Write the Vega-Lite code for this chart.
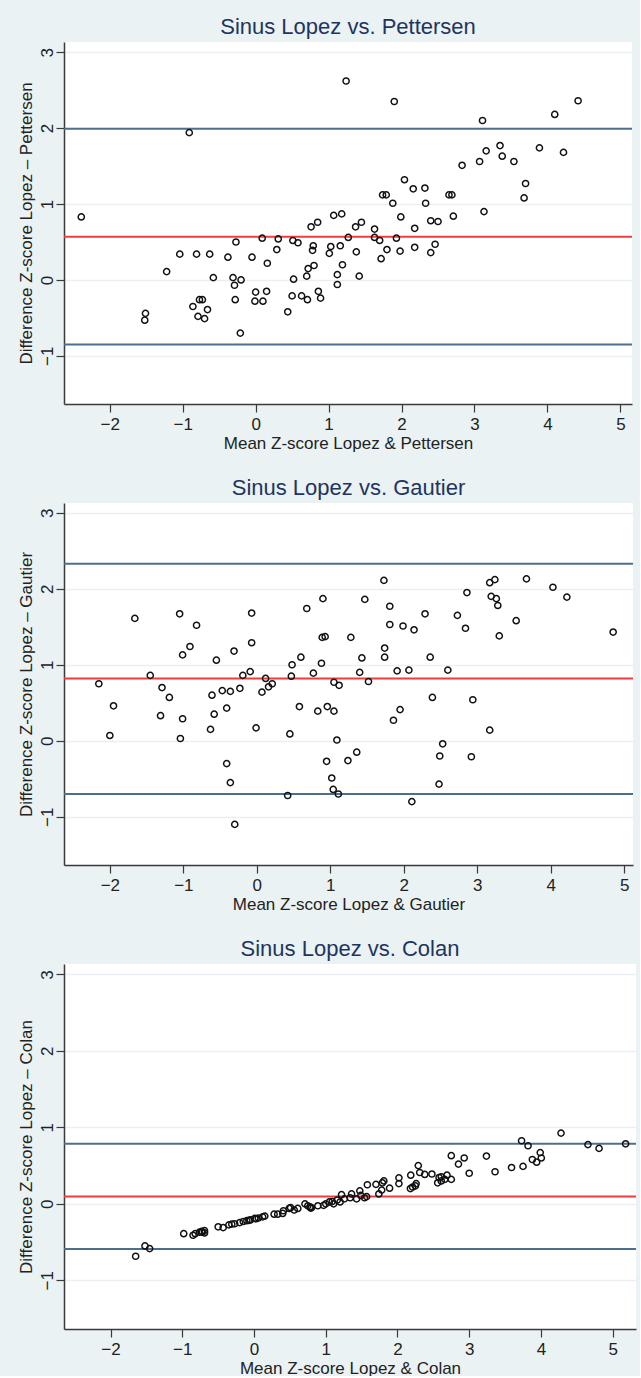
{
  "$schema": "https://vega.github.io/schema/vega-lite/v6.json",
  "background": "#EAF2F3",
  "padding": {"left": 17, "top": 16, "right": 3, "bottom": 0},
  "spacing": 99,
  "bounds": "flush",
  "datasets": {
    "lines1": [{"value": 1.99, "line": "limit"}, {"value": 0.57, "line": "mean"}, {"value": -0.85, "line": "limit"}],
    "lines2": [{"value": 2.33, "line": "limit"}, {"value": 0.82, "line": "mean"}, {"value": -0.70, "line": "limit"}],
    "lines3": [{"value": 0.785, "line": "limit"}, {"value": 0.096, "line": "mean"}, {"value": -0.59, "line": "limit"}],
    "p1": [
      {"mean": -2.39, "diff": 0.83}, {"mean": -1.51, "diff": -0.44}, {"mean": -1.52, "diff": -0.53}, {"mean": -1.22, "diff": 0.11}, {"mean": -1.04, "diff": 0.34},
      {"mean": -0.91, "diff": 1.94}, {"mean": -0.86, "diff": -0.35}, {"mean": -0.81, "diff": 0.34}, {"mean": -0.79, "diff": -0.48}, {"mean": -0.77, "diff": -0.26},
      {"mean": -0.73, "diff": -0.26}, {"mean": -0.70, "diff": -0.51}, {"mean": -0.66, "diff": -0.39}, {"mean": -0.63, "diff": 0.34}, {"mean": -0.58, "diff": 0.03},
      {"mean": -0.38, "diff": 0.30}, {"mean": -0.31, "diff": 0.03}, {"mean": -0.27, "diff": 0.50}, {"mean": -0.29, "diff": -0.07}, {"mean": -0.28, "diff": -0.26},
      {"mean": -0.20, "diff": 0.00}, {"mean": -0.21, "diff": -0.70}, {"mean": -0.05, "diff": 0.30}, {"mean": 0.00, "diff": -0.16}, {"mean": -0.01, "diff": -0.28},
      {"mean": 0.09, "diff": 0.55}, {"mean": 0.10, "diff": -0.28}, {"mean": 0.15, "diff": -0.15}, {"mean": 0.16, "diff": 0.22}, {"mean": 0.29, "diff": 0.40},
      {"mean": 0.31, "diff": 0.54}, {"mean": 0.44, "diff": -0.42}, {"mean": 0.50, "diff": -0.21}, {"mean": 0.51, "diff": 0.52}, {"mean": 0.52, "diff": 0.01},
      {"mean": 0.58, "diff": 0.49}, {"mean": 0.63, "diff": -0.21}, {"mean": 0.71, "diff": -0.26}, {"mean": 0.70, "diff": 0.05}, {"mean": 0.72, "diff": 0.15},
      {"mean": 0.76, "diff": 0.70}, {"mean": 0.78, "diff": 0.39}, {"mean": 0.79, "diff": 0.45}, {"mean": 0.80, "diff": 0.19}, {"mean": 0.85, "diff": 0.76},
      {"mean": 0.86, "diff": -0.15}, {"mean": 0.89, "diff": -0.24}, {"mean": 1.01, "diff": 0.35}, {"mean": 1.03, "diff": 0.44}, {"mean": 1.07, "diff": 0.85},
      {"mean": 1.12, "diff": 0.07}, {"mean": 1.12, "diff": -0.06}, {"mean": 1.16, "diff": 0.45}, {"mean": 1.18, "diff": 0.87}, {"mean": 1.19, "diff": 0.20},
      {"mean": 1.24, "diff": 2.62}, {"mean": 1.27, "diff": 0.56}, {"mean": 1.37, "diff": 0.70}, {"mean": 1.38, "diff": 0.37}, {"mean": 1.42, "diff": 0.05},
      {"mean": 1.45, "diff": 0.76}, {"mean": 1.63, "diff": 0.67}, {"mean": 1.63, "diff": 0.56}, {"mean": 1.70, "diff": 0.52}, {"mean": 1.72, "diff": 0.28},
      {"mean": 1.74, "diff": 1.12}, {"mean": 1.79, "diff": 1.12}, {"mean": 1.80, "diff": 0.40}, {"mean": 1.88, "diff": 1.01}, {"mean": 1.90, "diff": 2.35},
      {"mean": 1.93, "diff": 0.55}, {"mean": 1.98, "diff": 0.38}, {"mean": 1.99, "diff": 0.83}, {"mean": 2.04, "diff": 1.32}, {"mean": 2.16, "diff": 1.20},
      {"mean": 2.18, "diff": 0.68}, {"mean": 2.18, "diff": 0.43}, {"mean": 2.32, "diff": 1.21}, {"mean": 2.33, "diff": 1.01}, {"mean": 2.40, "diff": 0.78},
      {"mean": 2.40, "diff": 0.36}, {"mean": 2.46, "diff": 0.47}, {"mean": 2.50, "diff": 0.77}, {"mean": 2.65, "diff": 1.12}, {"mean": 2.69, "diff": 1.12},
      {"mean": 2.71, "diff": 0.84}, {"mean": 2.83, "diff": 1.51}, {"mean": 3.07, "diff": 1.56}, {"mean": 3.11, "diff": 2.10}, {"mean": 3.13, "diff": 0.90},
      {"mean": 3.16, "diff": 1.70}, {"mean": 3.35, "diff": 1.77}, {"mean": 3.38, "diff": 1.63}, {"mean": 3.54, "diff": 1.56}, {"mean": 3.68, "diff": 1.08},
      {"mean": 3.70, "diff": 1.27}, {"mean": 3.89, "diff": 1.74}, {"mean": 4.10, "diff": 2.18}, {"mean": 4.22, "diff": 1.68}, {"mean": 4.42, "diff": 2.36}
    ],
    "p2": [
      {"mean": -2.15, "diff": 0.75}, {"mean": -2.00, "diff": 0.07}, {"mean": -1.95, "diff": 0.46}, {"mean": -1.66, "diff": 1.61}, {"mean": -1.45, "diff": 0.86},
      {"mean": -1.31, "diff": 0.33}, {"mean": -1.29, "diff": 0.70}, {"mean": -1.19, "diff": 0.57}, {"mean": -1.05, "diff": 1.67}, {"mean": -1.04, "diff": 0.03},
      {"mean": -1.01, "diff": 0.29}, {"mean": -1.01, "diff": 1.13}, {"mean": -0.91, "diff": 1.24}, {"mean": -0.82, "diff": 1.52}, {"mean": -0.63, "diff": 0.15},
      {"mean": -0.61, "diff": 0.60}, {"mean": -0.58, "diff": 0.35}, {"mean": -0.55, "diff": 1.06}, {"mean": -0.47, "diff": 0.66}, {"mean": -0.41, "diff": 0.43},
      {"mean": -0.41, "diff": -0.30}, {"mean": -0.36, "diff": 0.65}, {"mean": -0.36, "diff": -0.55}, {"mean": -0.31, "diff": 1.18}, {"mean": -0.30, "diff": -1.10},
      {"mean": -0.23, "diff": 0.69}, {"mean": -0.19, "diff": 0.86}, {"mean": -0.09, "diff": 0.91}, {"mean": -0.07, "diff": 1.68}, {"mean": -0.07, "diff": 1.29},
      {"mean": -0.01, "diff": 0.17}, {"mean": 0.07, "diff": 0.64}, {"mean": 0.12, "diff": 0.82}, {"mean": 0.16, "diff": 0.71}, {"mean": 0.21, "diff": 0.75},
      {"mean": 0.45, "diff": 0.09}, {"mean": 0.47, "diff": 0.85}, {"mean": 0.48, "diff": 1.00}, {"mean": 0.58, "diff": 0.45}, {"mean": 0.60, "diff": 1.10},
      {"mean": 0.42, "diff": -0.72}, {"mean": 0.68, "diff": 1.74}, {"mean": 0.77, "diff": 0.89}, {"mean": 0.83, "diff": 0.39}, {"mean": 0.88, "diff": 1.02},
      {"mean": 0.90, "diff": 1.87}, {"mean": 0.89, "diff": 1.36}, {"mean": 0.93, "diff": 1.37}, {"mean": 0.95, "diff": -0.27}, {"mean": 0.96, "diff": 0.45},
      {"mean": 1.02, "diff": -0.49}, {"mean": 1.04, "diff": -0.64}, {"mean": 1.05, "diff": 0.39}, {"mean": 1.05, "diff": 0.77}, {"mean": 1.09, "diff": 0.01},
      {"mean": 1.11, "diff": -0.70}, {"mean": 1.12, "diff": 0.73}, {"mean": 1.24, "diff": -0.26}, {"mean": 1.28, "diff": 1.36}, {"mean": 1.36, "diff": -0.15},
      {"mean": 1.40, "diff": 0.90}, {"mean": 1.43, "diff": 1.09}, {"mean": 1.47, "diff": 1.86}, {"mean": 1.52, "diff": 0.78}, {"mean": 1.73, "diff": 2.11},
      {"mean": 1.74, "diff": 1.22}, {"mean": 1.74, "diff": 1.10}, {"mean": 1.81, "diff": 1.77}, {"mean": 1.81, "diff": 1.53}, {"mean": 1.86, "diff": 0.27},
      {"mean": 1.91, "diff": 0.92}, {"mean": 1.95, "diff": 0.41}, {"mean": 1.99, "diff": 1.51}, {"mean": 2.07, "diff": 0.93}, {"mean": 2.11, "diff": -0.80},
      {"mean": 2.14, "diff": 1.46}, {"mean": 2.29, "diff": 1.67}, {"mean": 2.36, "diff": 1.10}, {"mean": 2.39, "diff": 0.57}, {"mean": 2.48, "diff": -0.57},
      {"mean": 2.49, "diff": -0.20}, {"mean": 2.53, "diff": -0.04}, {"mean": 2.60, "diff": 0.93}, {"mean": 2.73, "diff": 1.65}, {"mean": 2.84, "diff": 1.48},
      {"mean": 2.86, "diff": 1.95}, {"mean": 2.92, "diff": -0.21}, {"mean": 2.94, "diff": 0.54}, {"mean": 3.17, "diff": 0.14}, {"mean": 3.17, "diff": 2.08},
      {"mean": 3.19, "diff": 1.90}, {"mean": 3.24, "diff": 2.12}, {"mean": 3.26, "diff": 1.87}, {"mean": 3.28, "diff": 1.78}, {"mean": 3.30, "diff": 1.38},
      {"mean": 3.53, "diff": 1.58}, {"mean": 3.67, "diff": 2.13}, {"mean": 4.03, "diff": 2.02}, {"mean": 4.22, "diff": 1.89}, {"mean": 4.85, "diff": 1.43}
    ],
    "p3": [
      {"mean": -1.65, "diff": -0.685}, {"mean": -1.52, "diff": -0.55}, {"mean": -1.455, "diff": -0.585}, {"mean": -0.98, "diff": -0.39}, {"mean": -0.85, "diff": -0.41},
      {"mean": -0.82, "diff": -0.39}, {"mean": -0.76, "diff": -0.37}, {"mean": -0.73, "diff": -0.36}, {"mean": -0.69, "diff": -0.35}, {"mean": -0.69, "diff": -0.38},
      {"mean": -0.72, "diff": -0.37}, {"mean": -0.50, "diff": -0.30}, {"mean": -0.43, "diff": -0.31}, {"mean": -0.35, "diff": -0.275}, {"mean": -0.31, "diff": -0.265},
      {"mean": -0.27, "diff": -0.26}, {"mean": -0.20, "diff": -0.245}, {"mean": -0.15, "diff": -0.23}, {"mean": -0.10, "diff": -0.22}, {"mean": -0.07, "diff": -0.215},
      {"mean": -0.05, "diff": -0.21}, {"mean": 0.01, "diff": -0.19}, {"mean": 0.03, "diff": -0.195}, {"mean": 0.06, "diff": -0.185}, {"mean": 0.12, "diff": -0.17},
      {"mean": 0.15, "diff": -0.16}, {"mean": 0.28, "diff": -0.135}, {"mean": 0.33, "diff": -0.135}, {"mean": 0.40, "diff": -0.125}, {"mean": 0.41, "diff": -0.09},
      {"mean": 0.49, "diff": -0.06}, {"mean": 0.51, "diff": -0.05}, {"mean": 0.56, "diff": -0.08}, {"mean": 0.61, "diff": -0.06}, {"mean": 0.71, "diff": 0.00},
      {"mean": 0.75, "diff": -0.025}, {"mean": 0.78, "diff": -0.04}, {"mean": 0.79, "diff": -0.055}, {"mean": 0.80, "diff": -0.05}, {"mean": 0.89, "diff": -0.025},
      {"mean": 0.97, "diff": -0.02}, {"mean": 1.00, "diff": 0.00}, {"mean": 1.05, "diff": 0.025}, {"mean": 1.09, "diff": 0.03}, {"mean": 1.11, "diff": 0.00},
      {"mean": 1.16, "diff": 0.05}, {"mean": 1.20, "diff": 0.025}, {"mean": 1.22, "diff": 0.12}, {"mean": 1.26, "diff": 0.065}, {"mean": 1.34, "diff": 0.08},
      {"mean": 1.36, "diff": 0.13}, {"mean": 1.43, "diff": 0.065}, {"mean": 1.475, "diff": 0.17}, {"mean": 1.49, "diff": 0.11}, {"mean": 1.54, "diff": 0.08},
      {"mean": 1.57, "diff": 0.095}, {"mean": 1.58, "diff": 0.25}, {"mean": 1.70, "diff": 0.255}, {"mean": 1.74, "diff": 0.13}, {"mean": 1.78, "diff": 0.18},
      {"mean": 1.79, "diff": 0.275}, {"mean": 1.81, "diff": 0.30}, {"mean": 1.89, "diff": 0.205}, {"mean": 2.02, "diff": 0.34}, {"mean": 2.02, "diff": 0.265},
      {"mean": 2.18, "diff": 0.20}, {"mean": 2.185, "diff": 0.375}, {"mean": 2.21, "diff": 0.22}, {"mean": 2.25, "diff": 0.235}, {"mean": 2.26, "diff": 0.265},
      {"mean": 2.29, "diff": 0.50}, {"mean": 2.31, "diff": 0.41}, {"mean": 2.38, "diff": 0.385}, {"mean": 2.48, "diff": 0.39}, {"mean": 2.56, "diff": 0.275},
      {"mean": 2.58, "diff": 0.345}, {"mean": 2.61, "diff": 0.30}, {"mean": 2.61, "diff": 0.355}, {"mean": 2.66, "diff": 0.32}, {"mean": 2.69, "diff": 0.375},
      {"mean": 2.75, "diff": 0.63}, {"mean": 2.75, "diff": 0.32}, {"mean": 2.85, "diff": 0.52}, {"mean": 2.93, "diff": 0.60}, {"mean": 3.00, "diff": 0.40},
      {"mean": 3.24, "diff": 0.625}, {"mean": 3.36, "diff": 0.42}, {"mean": 3.59, "diff": 0.475}, {"mean": 3.73, "diff": 0.825}, {"mean": 3.75, "diff": 0.49},
      {"mean": 3.82, "diff": 0.76}, {"mean": 3.88, "diff": 0.58}, {"mean": 3.94, "diff": 0.545}, {"mean": 3.99, "diff": 0.67}, {"mean": 4.005, "diff": 0.60},
      {"mean": 4.28, "diff": 0.925}, {"mean": 4.655, "diff": 0.775}, {"mean": 4.81, "diff": 0.725}, {"mean": 5.18, "diff": 0.785}
    ]
  },
  "vconcat": [
    {
      "title": "Sinus Lopez vs. Pettersen",
      "width": 568, "height": 362,
      "layer": [
        {
          "data": {"name": "lines1"},
          "mark": {"type": "rule", "strokeWidth": 2},
          "encoding": {
            "y": {"field": "value", "type": "quantitative", "scale": {"domain": [-1.634, 3.134], "nice": false, "zero": false},
                  "axis": {"title": "Difference Z-score Lopez – Pettersen", "values": [-1, 0, 1, 2, 3]}},
            "color": {"field": "line", "type": "nominal", "scale": {"domain": ["limit", "mean"], "range": ["#4d6f8f", "#f23c3c"]}, "legend": null}
          }
        },
        {
          "data": {"name": "p1"},
          "mark": {"type": "point", "shape": "circle", "filled": false, "color": "#111111", "size": 38, "strokeWidth": 1.5, "opacity": 1, "clip": true},
          "encoding": {
            "x": {"field": "mean", "type": "quantitative", "scale": {"domain": [-2.627, 5.159], "nice": false, "zero": false},
                  "axis": {"title": "Mean Z-score Lopez & Pettersen", "values": [-2, -1, 0, 1, 2, 3, 4, 5], "grid": false}},
            "y": {"field": "diff", "type": "quantitative", "scale": {"domain": [-1.634, 3.134], "nice": false, "zero": false},
                  "axis": {"title": "Difference Z-score Lopez – Pettersen", "values": [-1, 0, 1, 2, 3]}}
          }
        }
      ]
    },
    {
      "title": "Sinus Lopez vs. Gautier",
      "width": 569, "height": 362,
      "layer": [
        {
          "data": {"name": "lines2"},
          "mark": {"type": "rule", "strokeWidth": 2},
          "encoding": {
            "y": {"field": "value", "type": "quantitative", "scale": {"domain": [-1.634, 3.128], "nice": false, "zero": false},
                  "axis": {"title": "Difference Z-score Lopez – Gautier", "values": [-1, 0, 1, 2, 3]}},
            "color": {"field": "line", "type": "nominal", "scale": {"domain": ["limit", "mean"], "range": ["#4d6f8f", "#f23c3c"]}, "legend": null}
          }
        },
        {
          "data": {"name": "p2"},
          "mark": {"type": "point", "shape": "circle", "filled": false, "color": "#111111", "size": 38, "strokeWidth": 1.5, "opacity": 1, "clip": true},
          "encoding": {
            "x": {"field": "mean", "type": "quantitative", "scale": {"domain": [-2.624, 5.12], "nice": false, "zero": false},
                  "axis": {"title": "Mean Z-score Lopez & Gautier", "values": [-2, -1, 0, 1, 2, 3, 4, 5], "grid": false}},
            "y": {"field": "diff", "type": "quantitative", "scale": {"domain": [-1.634, 3.128], "nice": false, "zero": false},
                  "axis": {"title": "Difference Z-score Lopez – Gautier", "values": [-1, 0, 1, 2, 3]}}
          }
        }
      ]
    },
    {
      "title": "Sinus Lopez vs. Colan",
      "width": 572, "height": 365,
      "layer": [
        {
          "data": {"name": "lines3"},
          "mark": {"type": "rule", "strokeWidth": 2},
          "encoding": {
            "y": {"field": "value", "type": "quantitative", "scale": {"domain": [-1.636, 3.136], "nice": false, "zero": false},
                  "axis": {"title": "Difference Z-score Lopez – Colan", "values": [-1, 0, 1, 2, 3]}},
            "color": {"field": "line", "type": "nominal", "scale": {"domain": ["limit", "mean"], "range": ["#4d6f8f", "#f23c3c"]}, "legend": null}
          }
        },
        {
          "data": {"name": "p3"},
          "mark": {"type": "point", "shape": "circle", "filled": false, "color": "#111111", "size": 38, "strokeWidth": 1.5, "opacity": 1, "clip": true},
          "encoding": {
            "x": {"field": "mean", "type": "quantitative", "scale": {"domain": [-2.649, 5.325], "nice": false, "zero": false},
                  "axis": {"title": "Mean Z-score Lopez & Colan", "values": [-2, -1, 0, 1, 2, 3, 4, 5], "grid": false}},
            "y": {"field": "diff", "type": "quantitative", "scale": {"domain": [-1.636, 3.136], "nice": false, "zero": false},
                  "axis": {"title": "Difference Z-score Lopez – Colan", "values": [-1, 0, 1, 2, 3]}}
          }
        }
      ]
    }
  ],
  "config": {
    "view": {"fill": "white", "stroke": null},
    "axis": {
      "domainColor": "#3a3a3a", "domainWidth": 1.5, "tickColor": "#3a3a3a", "tickWidth": 1.2, "tickSize": 8,
      "labelColor": "#222222", "titleColor": "#222222", "labelFont": "Liberation Sans", "titleFont": "Liberation Sans",
      "labelFontSize": 17, "titleFontSize": 17, "titleFontWeight": "normal",
      "gridColor": "#eaf0f2", "gridWidth": 1.5, "labelPadding": 4, "titlePadding": 3
    },
    "axisY": {"labelAngle": -90, "labelAlign": "center", "labelBaseline": "alphabetic", "grid": true},
    "title": {"font": "Liberation Sans", "fontSize": 22, "fontWeight": "normal", "color": "#1f3560", "anchor": "middle", "frame": "group", "offset": 3}
  }
}
